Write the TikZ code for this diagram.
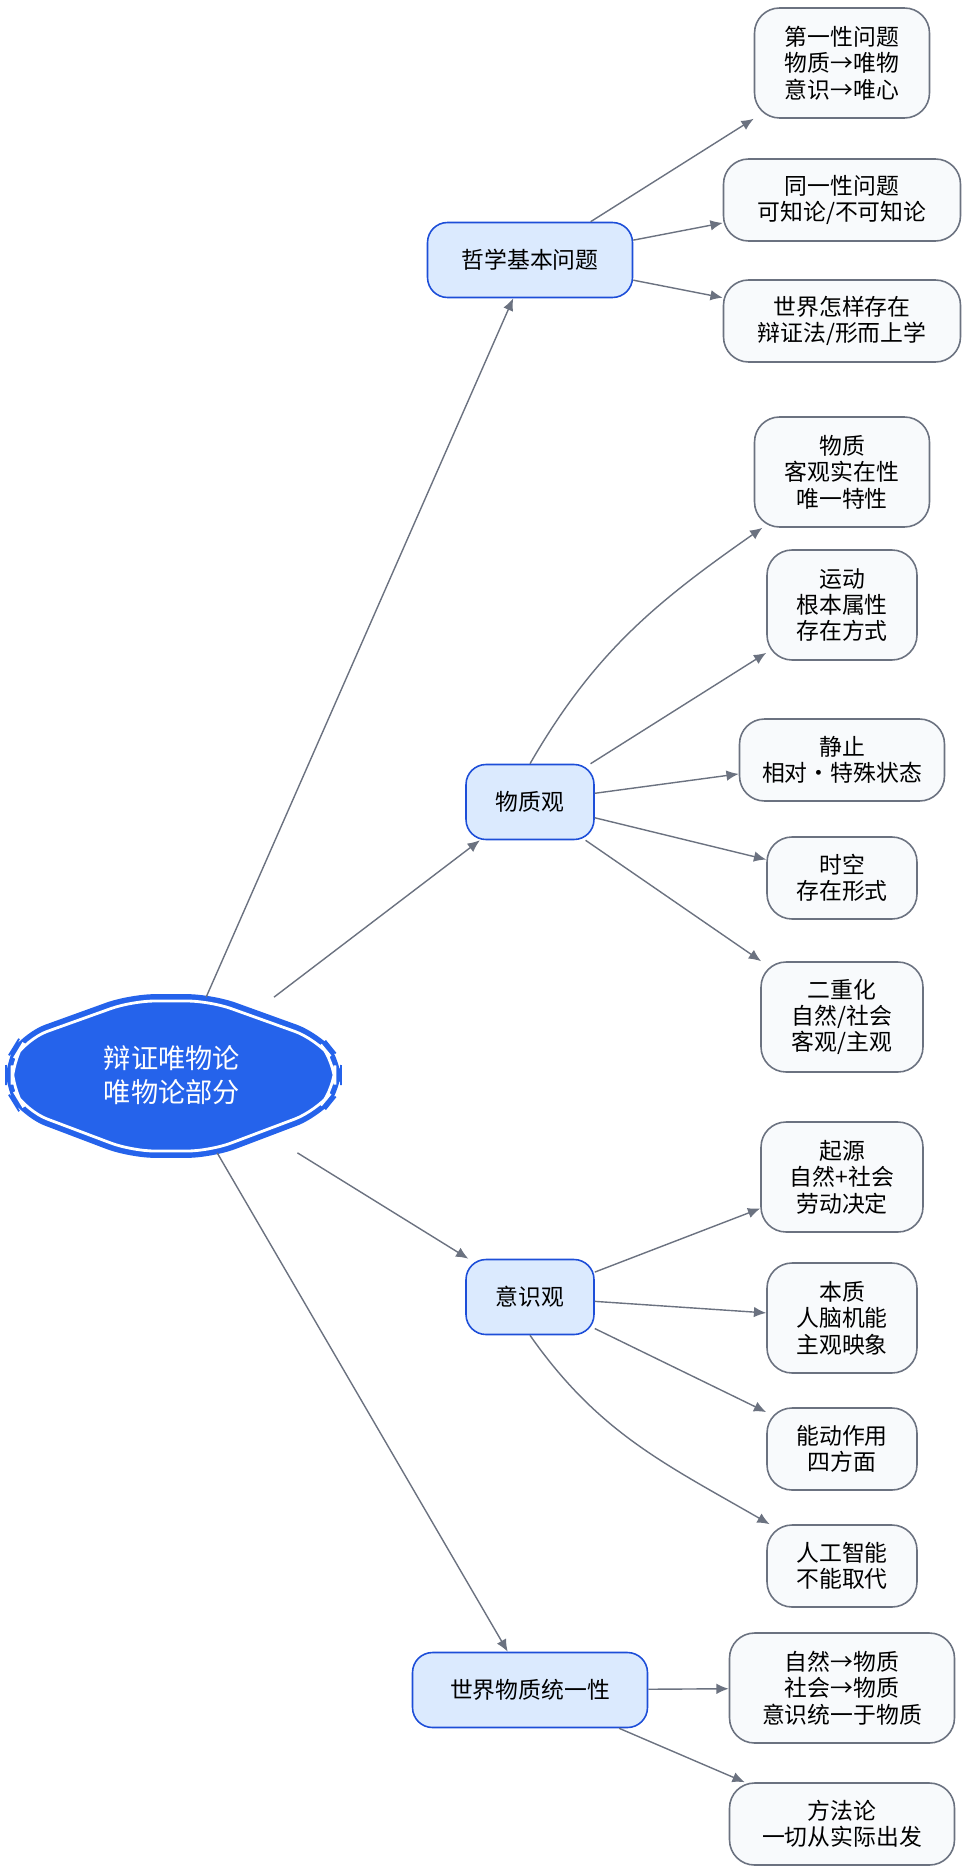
\documentclass[tikz,border=0pt]{standalone}
\usepackage{fontspec}
\setmainfont{Noto Sans CJK SC}
\usetikzlibrary{arrows.meta}
\definecolor{rootblue}{HTML}{2563EB}
\definecolor{midfill}{HTML}{DBEAFE}
\definecolor{midline}{HTML}{1D4ED8}
\definecolor{leaffill}{HTML}{F8FAFC}
\definecolor{leafline}{HTML}{6B7280}
\tikzset{
  mid/.style={draw=midline,fill=midfill,rounded corners=0.4cm,line width=0.9pt,
    minimum height=1.5cm,align=center,font=\fontsize{13}{16}\selectfont},
  leaf/.style={draw=leafline,fill=leaffill,rounded corners=0.5cm,line width=0.9pt,
    align=center,font=\fontsize{13}{15}\selectfont},
  link/.style={draw=leafline,line width=0.8pt,-{Latex[length=7pt,width=6pt]}}
}
\begin{document}
\begin{tikzpicture}[x={(0.02cm,0)},y={(0,-0.02cm)}]
  \useasboundingbox (0,0) rectangle (965,1868);

  % root shape
  \draw[fill=rootblue,draw=rootblue,line width=1pt,rounded corners=0.5cm]
    (130,995) -- (212,995) -- (320,1034) -- (341,1060) -- (341,1090) -- (320,1116)
    -- (212,1157) -- (130,1157) -- (22,1116) -- (6,1090) -- (6,1060) -- (22,1034) -- cycle;
  \draw[white,line width=1.6pt,rounded corners=0.45cm]
    (132,1001) -- (210,1001) -- (316,1039) -- (335,1062) -- (335,1088) -- (316,1111)
    -- (210,1151) -- (132,1151) -- (26,1111) -- (12,1088) -- (12,1062) -- (26,1039) -- cycle;
  \node[minimum width=6.4cm,minimum height=3.1cm,align=center,text=white,
    font=\fontsize{15.5}{19}\selectfont] (root) at (172,1075) {辩证唯物论\\唯物论部分};

  % second level
  \node[mid,minimum width=4.1cm] (jiben) at (530,260) {哲学基本问题};
  \node[mid,minimum width=2.56cm] (wuzhi) at (530,802) {物质观};
  \node[mid,minimum width=2.56cm] (yishi) at (530,1297) {意识观};
  \node[mid,minimum width=4.7cm] (tongyi) at (530,1690) {世界物质统一性};

  % leaves
  \node[leaf,minimum width=3.5cm,minimum height=2.2cm] (l1) at (842,63) {第一性问题\\物质→唯物\\意识→唯心};
  \node[leaf,minimum width=4.74cm,minimum height=1.64cm] (l2) at (842,200) {同一性问题\\可知论/不可知论};
  \node[leaf,minimum width=4.74cm,minimum height=1.64cm] (l3) at (842,321) {世界怎样存在\\辩证法/形而上学};
  \node[leaf,minimum width=3.5cm,minimum height=2.2cm] (m1) at (842,472) {物质\\客观实在性\\唯一特性};
  \node[leaf,minimum width=3cm,minimum height=2.2cm] (m2) at (842,605) {运动\\根本属性\\存在方式};
  \node[leaf,minimum width=4.1cm,minimum height=1.64cm] (m3) at (842,760) {静止\\相对·特殊状态};
  \node[leaf,minimum width=3cm,minimum height=1.64cm] (m4) at (842,878) {时空\\存在形式};
  \node[leaf,minimum width=3.24cm,minimum height=2.2cm] (m5) at (842,1017) {二重化\\自然/社会\\客观/主观};
  \node[leaf,minimum width=3.24cm,minimum height=2.2cm] (c1) at (842,1177) {起源\\自然+社会\\劳动决定};
  \node[leaf,minimum width=3cm,minimum height=2.2cm] (c2) at (842,1318) {本质\\人脑机能\\主观映象};
  \node[leaf,minimum width=3cm,minimum height=1.64cm] (c3) at (842,1449) {能动作用\\四方面};
  \node[leaf,minimum width=3cm,minimum height=1.64cm] (c4) at (842,1566) {人工智能\\不能取代};
  \node[leaf,minimum width=4.5cm,minimum height=2.2cm] (w1) at (842,1688) {自然→物质\\社会→物质\\意识统一于物质};
  \node[leaf,minimum width=4.5cm,minimum height=1.64cm] (w2) at (842,1824) {方法论\\一切从实际出发};

  % connectors
  \draw[link] (root) -- (jiben);
  \draw[link] (root) -- (wuzhi);
  \draw[link] (root) -- (yishi);
  \draw[link] (root) -- (tongyi);
  \foreach \t in {l1,l2,l3} \draw[link] (jiben) -- (\t);
  \draw[link] (wuzhi.north) to[out=60,in=215] (m1);
  \foreach \t in {m2,m3,m4,m5} \draw[link] (wuzhi) -- (\t);
  \foreach \t in {c1,c2,c3} \draw[link] (yishi) -- (\t);
  \draw[link] (yishi.south) to[out=-55,in=150] (c4);
  \foreach \t in {w1,w2} \draw[link] (tongyi) -- (\t);
\end{tikzpicture}
\end{document}
